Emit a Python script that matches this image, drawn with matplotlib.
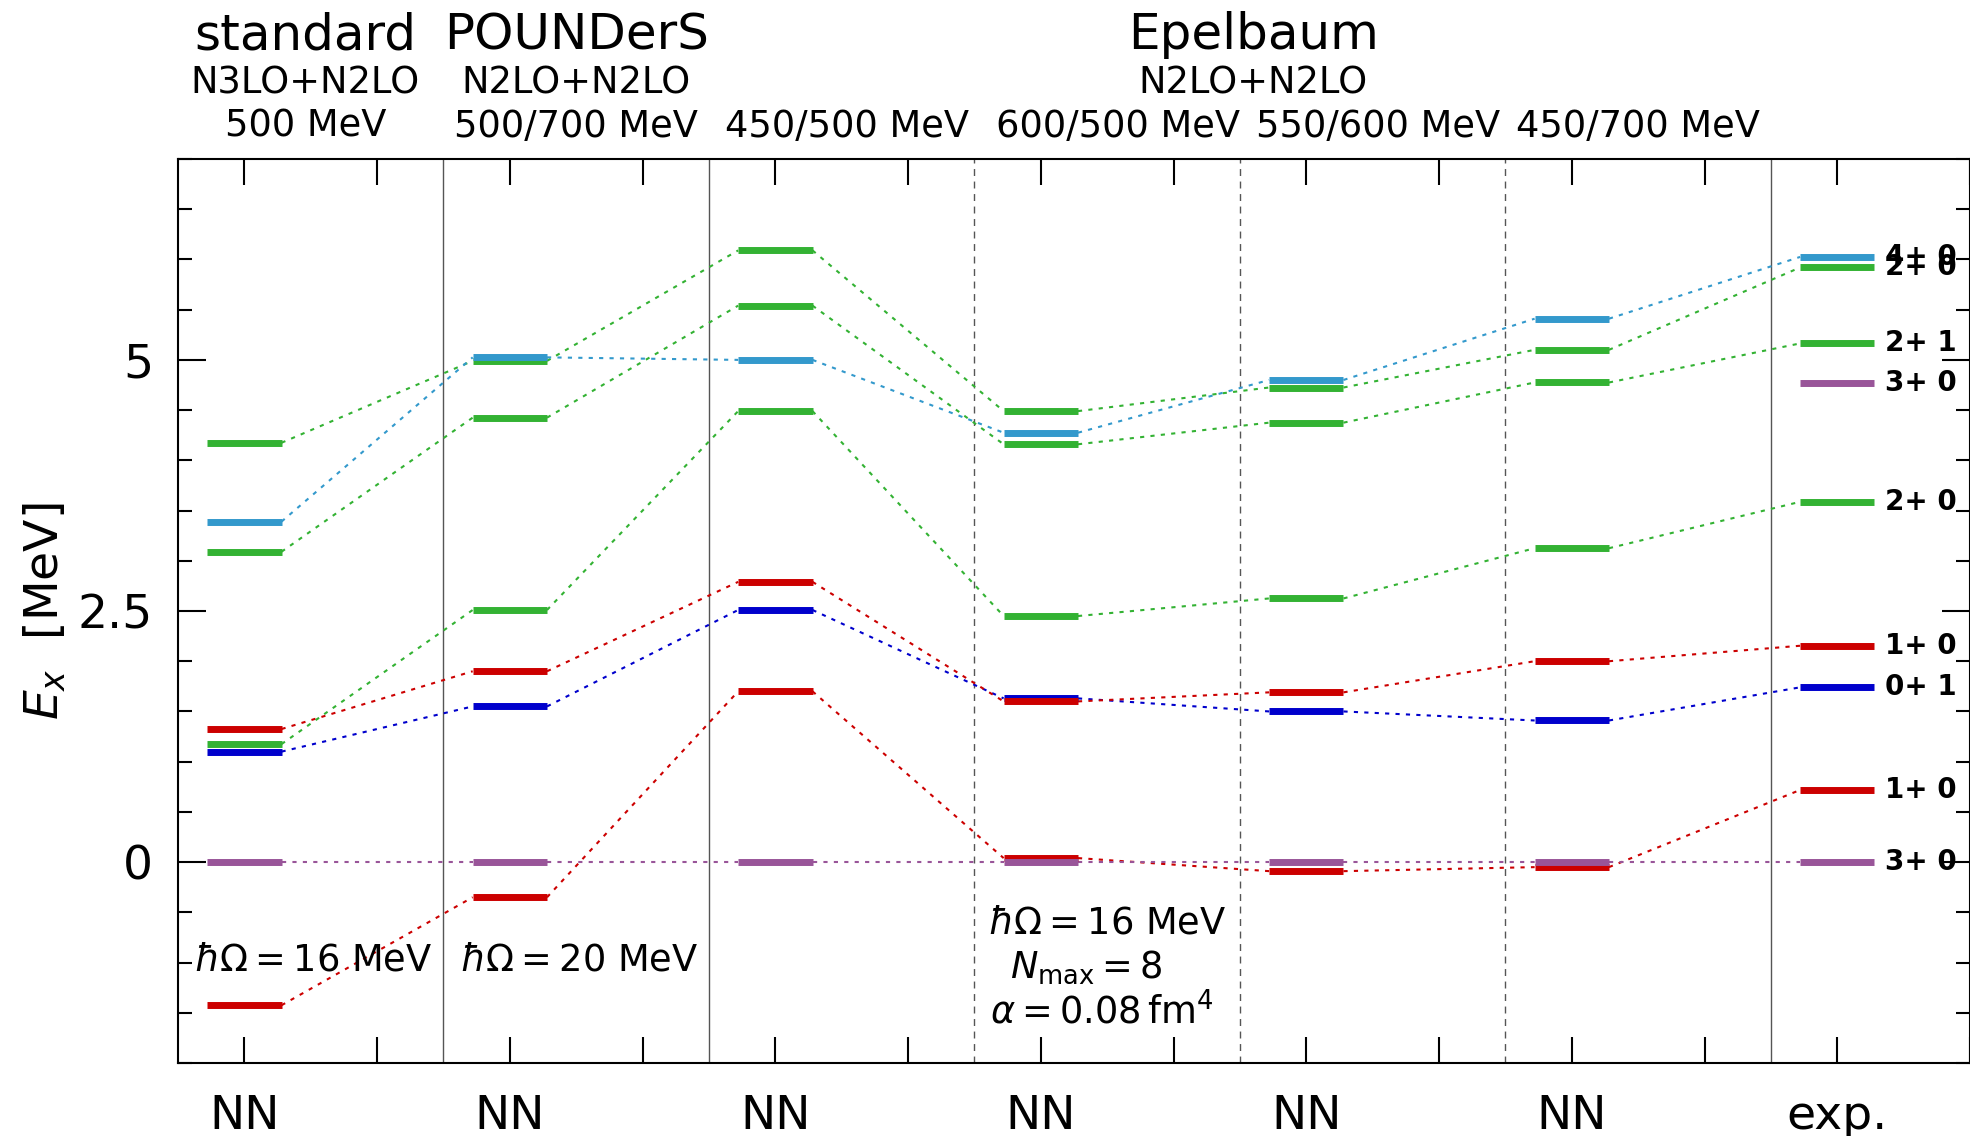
#!/usr/bin/env python3

import matplotlib
matplotlib.use("Agg")
import matplotlib.pyplot as plt
import numpy as np

# x positions of the level columns (six calculations + experiment)
columns = ["NN", "NN", "NN", "NN", "NN", "NN", "exp."]

# excitation energies (MeV) per state, one value per column
E_0p = [1.10, 1.55, 2.51, 1.63, 1.50, 1.41, 1.740]
E_1p_a = [-1.425, -0.35, 1.70, 0.04, -0.09, -0.05, 0.718]
E_1p_b = [1.325, 1.90, 2.79, 1.60, 1.69, 2.00, 2.154]
E_2p_a = [1.175, 2.51, 4.49, 2.45, 2.625, 3.125, 3.587]
E_2p_b = [3.09, 4.425, 5.54, 4.16, 4.375, 4.775, 5.164]
E_2p_c = [4.175, 4.99, 6.09, 4.49, 4.725, 5.10, 5.920]
E_4p = [3.39, 5.025, 5.00, 4.275, 4.80, 5.41, 6.025]
E_3p_a = [0, 0, 0, 0, 0, 0, 0]
E_3p_b_exp = 4.774

# experimental level labels
exp_levels = [6.025, 5.920, 5.164, 4.774, 3.587, 2.154, 1.740, 0.718, 0.0]
exp_labels = ["4+ 0", "2+ 0", "2+ 1", "3+ 0", "2+ 0", "1+ 0", "0+ 1", "1+ 0", "3+ 0"]

# column headers
head_big = ["standard", "POUNDerS", "Epelbaum"]
head_mid = ["N3LO+N2LO", "N2LO+N2LO", "N2LO+N2LO"]
head_cut = ["500 MeV", "500/700 MeV", "450/500 MeV", "600/500 MeV", "550/600 MeV", "450/700 MeV"]

RED = "#cc0000"
BLUE = "#0000cc"
GREEN = "#33b233"
LBLUE = "#3399cc"
PURPLE = "#995599"

HALF = 0.14


def draw_state(ax, energies, color):
    xs = np.arange(len(energies))
    for x, e in zip(xs, energies):
        ax.plot([x - HALF, x + HALF], [e, e], color=color, lw=5,
                solid_capstyle="butt", zorder=3)
    for i in range(len(energies) - 1):
        ax.plot([xs[i] + HALF, xs[i + 1] - HALF], [energies[i], energies[i + 1]],
                color=color, lw=1.5, linestyle=(0, (2, 3)), zorder=2)


def main():
    fig = plt.figure(figsize=(19.7, 11.36), dpi=100)
    ax = fig.add_axes([178 / 1970, 1 - 1063 / 1136, 1 - 178 / 1970, (1063 - 159) / 1136])

    draw_state(ax, E_0p, BLUE)
    draw_state(ax, E_1p_a, RED)
    draw_state(ax, E_1p_b, RED)
    draw_state(ax, E_2p_a, GREEN)
    draw_state(ax, E_2p_b, GREEN)
    draw_state(ax, E_2p_c, GREEN)
    draw_state(ax, E_4p, LBLUE)
    draw_state(ax, E_3p_a, PURPLE)
    ax.plot([6 - HALF, 6 + HALF], [E_3p_b_exp] * 2, color=PURPLE, lw=5,
            solid_capstyle="butt", zorder=3)

    for e, lab in zip(exp_levels, exp_labels):
        ax.text(6.18, e, lab, fontsize=20, fontweight="bold", va="center", ha="left")

    # separators between groups
    for x in [0.75, 1.75, 5.75]:
        ax.axvline(x, color="#555555", lw=1.0, zorder=1)
    for x in [2.75, 3.75, 4.75]:
        ax.axvline(x, color="#555555", lw=1.0, linestyle=(0, (5, 4)), zorder=1)

    ax.set_xlim(-0.25, 6.5)
    ax.set_ylim(-2, 7)

    ticks = np.arange(0, 6.51, 0.5)
    ax.set_xticks(ticks)
    ax.set_xticklabels([columns[int(t)] if t == int(t) else "" for t in ticks])
    ax.set_yticks([0, 2.5, 5])
    ax.set_yticklabels(["0", "2.5", "5"])
    ax.set_yticks(np.arange(-2, 7.01, 0.5), minor=True)
    ax.tick_params(axis="both", which="both", direction="in", top=True, right=True,
                   width=1.5, labelsize=34)
    ax.tick_params(axis="x", which="major", length=19, pad=22)
    ax.tick_params(axis="y", which="major", length=20, pad=18)
    ax.tick_params(axis="y", which="minor", length=10)
    for s in ax.spines.values():
        s.set_linewidth(1.5)

    ax.set_ylabel(r"$E_x$  [MeV]", fontsize=34)
    ax.yaxis.set_label_coords(-0.061, 0.5)

    # headers above the frame
    tr = ax.get_xaxis_transform()
    for x, s in zip([0.23, 1.25, 3.8], head_big):
        ax.text(x, 1.137, s, transform=tr, fontsize=36, ha="center", va="center")
    for x, s in zip([0.23, 1.25, 3.8], head_mid):
        ax.text(x, 1.084, s, transform=tr, fontsize=26.5, ha="center", va="center")
    for x, s in zip([0.23, 1.25, 2.27, 3.29, 4.27, 5.25], head_cut):
        ax.text(x, 1.036, s, transform=tr, fontsize=26.5, ha="center", va="center")

    # model-space notes
    ax.text(0.26, -0.97, r"$\hbar\Omega = 16$ MeV", fontsize=26.5, ha="center", va="center")
    ax.text(1.26, -0.97, r"$\hbar\Omega = 20$ MeV", fontsize=26.5, ha="center", va="center")
    ax.text(3.25, -0.61, r"$\hbar\Omega = 16$ MeV", fontsize=26.5, ha="center", va="center")
    ax.text(3.17, -1.05, r"$N_{\mathrm{max}} = 8$", fontsize=26.5, ha="center", va="center")
    ax.text(3.23, -1.49, r"$\alpha = 0.08\,\mathrm{fm}^4$", fontsize=26.5, ha="center", va="center")

    fig.savefig("out.png", dpi=100)


if __name__ == "__main__":
    main()
